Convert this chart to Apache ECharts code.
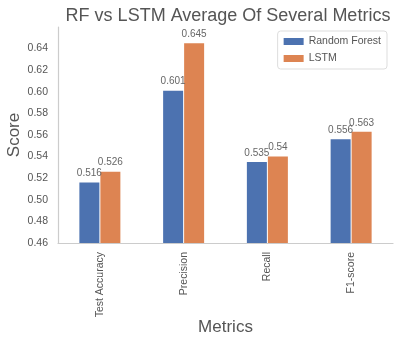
<!DOCTYPE html>
<html>
<head>
<meta charset="utf-8">
<script src="https://cdn.jsdelivr.net/npm/echarts@6/dist/echarts.min.js"></script>
<style>
  html, body { margin: 0; padding: 0; background: #fff; }
  #chart { width: 400px; height: 342px; }
</style>
</head>
<body>
<div id="chart"></div>
<script>
// Metric names along the x axis
const categories = ['Test Accuracy', 'Precision', 'Recall', 'F1-score'];
// Average scores per model
const randomForest = [0.516, 0.601, 0.535, 0.556];
const lstm = [0.526, 0.645, 0.54, 0.563];
// Y axis range and step
const yMin = 0.46;
const yMax = 0.66;
const yStep = 0.02;

const FONT = 'Liberation Sans';
const TEXT = '#555555';

const chart = echarts.init(document.getElementById('chart'));

const barLabel = {
  show: true,
  position: 'top',
  distance: 4,
  color: '#666666',
  fontFamily: FONT,
  fontSize: 10,
  formatter: p => String(p.value)
};

chart.setOption({
  animation: false,
  title: {
    text: 'RF vs LSTM Average Of Several Metrics',
    left: 223, top: 2, textAlign: 'center',
    textStyle: { fontFamily: FONT, fontSize: 18, fontWeight: 'normal', color: TEXT }
  },
  legend: {
    data: ['Random Forest', 'LSTM'],
    orient: 'vertical',
    right: 13, top: 31,
    padding: [5, 6, 5, 6],
    itemGap: 6,
    itemWidth: 20, itemHeight: 7,
    borderColor: '#dddddd', borderWidth: 1, borderRadius: 3,
    icon: 'rect',
    textStyle: { fontFamily: FONT, fontSize: 10.5, color: TEXT }
  },
  grid: { left: 58, right: 7, top: 27, bottom: 99, outerBoundsMode: 'none', containLabel: false },
  xAxis: {
    type: 'category',
    data: categories,
    name: 'Metrics',
    nameLocation: 'middle',
    nameGap: 76,
    nameMoveOverlap: false,
    nameTextStyle: { fontFamily: FONT, fontSize: 17, color: TEXT },
    axisLine: { lineStyle: { color: '#cccccc', width: 1.2 } },
    axisTick: { show: false },
    axisLabel: { rotate: 90, margin: 9, fontFamily: FONT, fontSize: 10.5, color: TEXT }
  },
  yAxis: {
    type: 'value',
    min: yMin, max: yMax, interval: yStep,
    name: 'Score',
    nameLocation: 'middle',
    nameGap: 35,
    nameMoveOverlap: false,
    nameTextStyle: { fontFamily: FONT, fontSize: 17, color: TEXT },
    axisLine: { show: true, lineStyle: { color: '#cccccc', width: 1.2 } },
    axisTick: { show: false },
    splitLine: { show: false },
    axisLabel: {
      margin: 10, fontFamily: FONT, fontSize: 10.5, color: TEXT,
      formatter: v => (v > 0.65 ? '' : v.toFixed(2))
    }
  },
  series: [
    {
      name: 'Random Forest', type: 'bar', data: randomForest,
      barWidth: 20, barGap: '5%', barCategoryGap: '50%',
      itemStyle: { color: '#4C72B0' },
      label: barLabel
    },
    {
      name: 'LSTM', type: 'bar', data: lstm,
      barWidth: 20, barGap: '5%',
      itemStyle: { color: '#DD8452' },
      label: barLabel
    }
  ]
});
</script>
</body>
</html>
